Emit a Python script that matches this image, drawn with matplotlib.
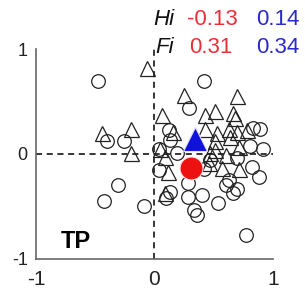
import numpy as np
import matplotlib.pyplot as plt

plt.rcParams['font.family'] = ['Liberation Sans', 'DejaVu Sans']

# open triangles (Fi, Hi)
tri_x = [-0.06, 0.25, 0.70, 0.065, 0.43, 0.51, 0.66, 0.68, -0.20, -0.44,
         0.16, 0.43, 0.63, 0.78, 0.64, 0.53, 0.70, 0.51, 0.71, 0.51,
         -0.20, 0.05, 0.09, 0.47, 0.60, 0.46, 0.57, 0.71, 0.11, 0.09]
tri_y = [0.82, 0.56, 0.55, 0.37, 0.37, 0.41, 0.39, 0.34, 0.24, 0.20,
         0.21, 0.24, 0.24, 0.23, 0.16, 0.20, 0.21, 0.12, 0.07, 0.04,
         0.01, 0.05, -0.03, 0.01, -0.01, -0.09, -0.13, -0.14, -0.17, -0.37]

# open circles (Fi, Hi)
cir_x = [-0.48, 0.42, 0.29, 0.83, 0.89, -0.40, -0.26, 0.92, 0.81, 0.12,
         0.04, 0.135, 0.19, 0.70, 0.82, 0.88, -0.31, -0.43, -0.09, 0.04,
         0.42, 0.47, 0.28, 0.135, 0.28, 0.40, 0.54, 0.66, 0.70, 0.60,
         0.63, 0.33, 0.36, 0.77, 0.10]
cir_y = [0.70, 0.70, 0.44, 0.25, 0.24, 0.12, 0.12, 0.05, 0.08, 0.23,
         0.05, 0.13, 0.01, -0.04, -0.12, -0.22, -0.30, -0.45, -0.50, -0.15,
         -0.14, -0.06, -0.28, -0.36, -0.41, -0.39, -0.47, -0.37, -0.33, -0.30,
         -0.25, -0.53, -0.58, -0.77, -0.42]

# means
mean_circ = (0.31, -0.13)
mean_tri = (0.34, 0.14)

fig = plt.figure(figsize=(3.05, 2.9), dpi=100)
ax = fig.add_axes([0.118, 0.107, 0.777, 0.724])

ax.plot([-1, 1], [0, 0], ls=(0, (4, 3)), color='k', lw=1.1, zorder=1)
ax.plot([0, 0], [-1, 1], ls=(0, (4, 3)), color='k', lw=1.1, zorder=1)

ax.plot(cir_x, cir_y, 'o', ms=9.8, mfc='none', mec='#222222', mew=0.9, clip_on=False, zorder=2)
ax.plot(tri_x, tri_y, '^', ms=10.8, mfc='none', mec='#222222', mew=0.9, clip_on=False, zorder=3)

ax.plot(mean_circ[0], mean_circ[1], 'o', ms=16.5, color='#ee1111', mec='#ffdddd', mew=0.8, zorder=5)
ax.plot(mean_tri[0], mean_tri[1], '^', ms=17.5, color='#1111dd', mec='#ddddff', mew=0.8, zorder=5)

ax.set_xlim(-1, 1)
ax.set_ylim(-1, 1)
ax.set_xticks([-1, 0, 1])
ax.set_yticks([-1, 0, 1])
ax.set_xticklabels(['-1', '0', '1'], fontsize=15, color='#222222')
ax.set_yticklabels(['-1', '0', '1'], fontsize=13, color='#222222')
ax.tick_params(length=0)
ax.tick_params(axis='x', pad=8)
ax.tick_params(axis='y', pad=6)
for s in ['top', 'right']:
    ax.spines[s].set_visible(False)
for s in ['left', 'bottom']:
    ax.spines[s].set_color('#666666')
    ax.spines[s].set_linewidth(1.2)

ax.text(-0.79, -0.895, 'TP', fontsize=17, fontweight='bold', ha='left', va='baseline')

fig.text(0.502, 0.914, 'Hi', fontsize=16, style='italic', color='#111111')
fig.text(0.613, 0.914, '-0.13', fontsize=16, color='#e83038')
fig.text(0.839, 0.914, '0.14', fontsize=16, color='#2a2ac8')
fig.text(0.508, 0.817, 'Fi', fontsize=16, style='italic', color='#111111')
fig.text(0.620, 0.817, '0.31', fontsize=16, color='#e83038')
fig.text(0.839, 0.817, '0.34', fontsize=16, color='#2a2ac8')

fig.savefig('out.png', dpi=100)
